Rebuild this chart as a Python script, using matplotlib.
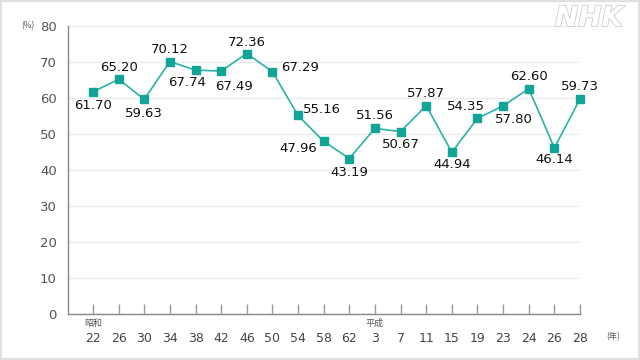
import matplotlib
matplotlib.use("Agg")
import matplotlib.pyplot as plt
import matplotlib.patheffects as pe
from matplotlib.patches import Rectangle

plt.rcParams['font.family'] = ['Noto Sans CJK JP', 'DejaVu Sans']

years = ["22", "26", "30", "34", "38", "42", "46", "50", "54", "58", "62",
         "3", "7", "11", "15", "19", "23", "24", "26", "28"]
values = [61.70, 65.20, 59.63, 70.12, 67.74, 67.49, 72.36, 67.29, 55.16, 47.96,
          43.19, 51.56, 50.67, 57.87, 44.94, 54.35, 57.80, 62.60, 46.14, 59.73]
# label offsets in points (dx, dy)
label_offsets = [(0, -10), (0, 8.5), (0, -10), (0, 8.5), (-6, -9), (9, -11),
                 (0, 8), (20, 3), (17, 4.5), (-18, -5), (0, -10), (0, 9),
                 (0, -9), (0, 9), (0, -9), (-8, 8.5), (8, -10), (0, 8.5),
                 (0, -8.5), (0, 9)]
eras = {0: "昭和", 11: "平成"}

fig = plt.figure(figsize=(6.4, 3.6), dpi=100)
fig.patch.set_facecolor("white")
ax = fig.add_axes([68/640, 1-314/360, (580-68)/640, (314-26)/360])

x = list(range(len(values)))
ax.plot(x, values, color="#2ab3a6", lw=1.2, zorder=3, clip_on=False)
ax.plot(x, values, ls="none", marker="s", ms=6, mfc="#12a597", mec="#12a597",
        zorder=4, clip_on=False)

for i, (v, (dx, dy)) in enumerate(zip(values, label_offsets)):
    ax.annotate(f"{v:.2f}", (i, v), xytext=(dx, dy), textcoords="offset points",
                ha="center", va="center", fontsize=9.5, color="#111111",
                family=['DejaVu Sans'])

ax.set_xlim(-0.975, 19)
ax.set_ylim(0, 80)
ax.set_yticks(range(0, 81, 10))
ax.set_xticks(x)
ax.set_xticklabels(years, fontsize=9, color="#444444", family=['DejaVu Sans'])
ax.tick_params(axis='x', direction='in', length=7, color="#999999", pad=13, width=1)
ax.tick_params(axis='y', length=0, pad=8, labelsize=9.5, labelcolor="#555555")
for lab in ax.get_yticklabels():
    lab.set_family(['DejaVu Sans'])

ax.grid(axis='y', color="#ebebeb", lw=1)
ax.set_axisbelow(True)
for s in ["top", "right"]:
    ax.spines[s].set_visible(False)
for s in ["left", "bottom"]:
    ax.spines[s].set_color("#888888")
    ax.spines[s].set_linewidth(1)

for i, t in eras.items():
    ax.annotate(t, (i, 0), xytext=(0, -7), textcoords="offset points",
                ha="center", va="center", fontsize=6.5, color="#555555")

ax.annotate("(年)", (19, 0), xytext=(24, -16), textcoords="offset points",
            ha="center", va="center", fontsize=6, color="#555555")
fig.text(28/640, 1-26/360, "(%)", ha="center", va="center", fontsize=6, color="#555555")

fig.text(589/640, 1-18/360, "NHK", ha="center", va="center", fontsize=20,
         fontstyle="italic", fontweight="bold", color="white", family=['DejaVu Sans'],
         path_effects=[pe.withStroke(linewidth=1.2, foreground="#cccccc")])

fig.add_artist(Rectangle((0, 0), 1, 1, transform=fig.transFigure, fill=False,
                         edgecolor="#e0e0e0", lw=3))

fig.savefig("out.png", dpi=100)
